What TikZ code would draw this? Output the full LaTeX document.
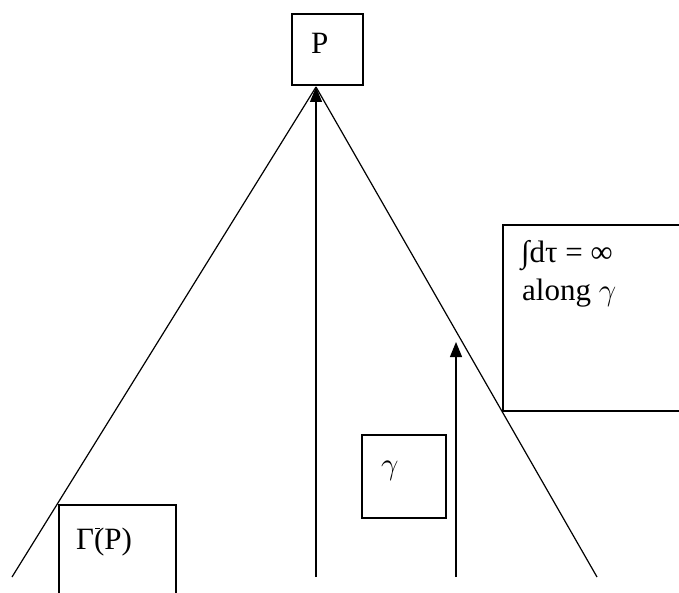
\RequirePackage{fix-cm}
\documentclass[tikz,border=0pt]{standalone}
\usepackage{fontspec}
\setmainfont{Liberation Serif}
\usetikzlibrary{arrows.meta}
\begin{document}
\begin{tikzpicture}[x=1pt,y=-1pt,
  box/.style={draw,line width=1.3pt},
  ln/.style={line width=1.2pt},
  arr/.style={line width=1.2pt,-{Triangle[width=12pt,length=15pt]}},
  lbl/.style={inner sep=0pt,anchor=base west,font=\fontsize{31}{37}\selectfont}]
\useasboundingbox (0,0) rectangle (679,593);
\clip (0,0) rectangle (679,593);
% P box
\node[box,minimum width=71pt,minimum height=71pt,inner sep=0pt] (Pbox) at (327.5,49.5) {};
\node[lbl] (Plbl) at (311,54) {P};
\coordinate (apex) at (316,87);
\coordinate (lend) at (12,577);
\coordinate (rend) at (597,577);
\coordinate (cbot) at (316,577);
\coordinate (gbot) at (456,577);
\coordinate (gtop) at (456,342);
\draw[ln] (apex) -- (lend);
\draw[ln] (apex) -- (rend);
\draw[arr] (cbot) -- (apex);
\draw[arr] (gbot) -- (gtop);
% integral box
\draw[box] (503,225) rectangle (700,411);
\node[lbl] (int) at (521,263) {∫dτ = ∞};
\node[lbl] (along) at (522,300) {along $\gamma$};
% gamma box
\draw[box] (362,435) rectangle (446,518);
\node[lbl] (gam) at (381,474) {$\gamma$};
% Gamma box
\draw[box] (59,505) rectangle (176,610);
\node[lbl] (Gam) at (76,549) {Γ\rlap{\kern1pt\rule[20pt]{5pt}{1.4pt}}(P)};
\end{tikzpicture}
\end{document}
